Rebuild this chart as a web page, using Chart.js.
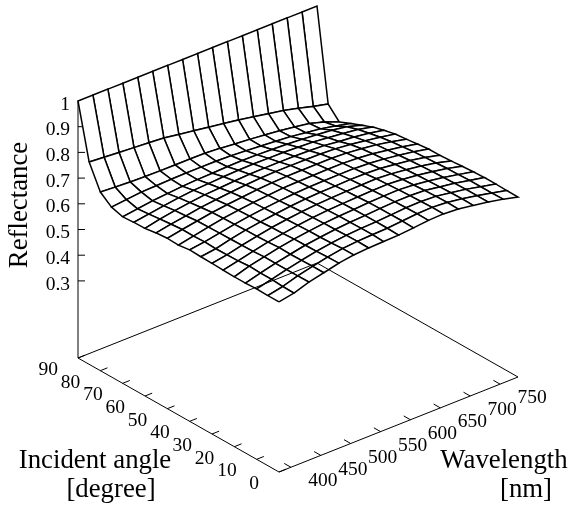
<!DOCTYPE html>
<html>
<head>
<meta charset="utf-8">
<title>Reflectance</title>
<script src="https://cdn.jsdelivr.net/npm/chart.js@4/dist/chart.umd.js"></script>
<style>
  html, body { margin: 0; padding: 0; background: #fff; }
  canvas { display: block; }
</style>
</head>
<body>
<canvas id="surfaceChart" width="574" height="510"></canvas>
<script>
// grid of the surface
const angles = [0, 5, 10, 15, 20, 25, 30, 35, 40, 45, 50, 55, 60, 65, 70, 75, 80, 85, 90];
const wavelengths = [380, 405, 430, 455, 480, 505, 530, 555, 580, 605, 630, 655, 680, 705, 730, 755, 780];

// reflectance per incident angle, one value per wavelength
const r0 = [0.662, 0.673, 0.693, 0.706, 0.72, 0.729, 0.733, 0.735, 0.737, 0.742, 0.748, 0.75, 0.746, 0.737, 0.727, 0.715, 0.7];
const r5 = [0.662, 0.674, 0.692, 0.706, 0.719, 0.729, 0.734, 0.737, 0.739, 0.744, 0.749, 0.751, 0.747, 0.738, 0.727, 0.714, 0.701];
const r10 = [0.663, 0.677, 0.692, 0.705, 0.717, 0.726, 0.733, 0.737, 0.739, 0.743, 0.748, 0.749, 0.746, 0.737, 0.727, 0.714, 0.702];
const r15 = [0.661, 0.677, 0.692, 0.704, 0.716, 0.724, 0.731, 0.736, 0.739, 0.743, 0.746, 0.747, 0.744, 0.735, 0.726, 0.714, 0.702];
const r20 = [0.661, 0.679, 0.692, 0.705, 0.715, 0.723, 0.73, 0.735, 0.738, 0.742, 0.744, 0.745, 0.741, 0.733, 0.724, 0.712, 0.7];
const r25 = [0.662, 0.675, 0.689, 0.702, 0.712, 0.721, 0.728, 0.733, 0.736, 0.739, 0.741, 0.742, 0.738, 0.731, 0.722, 0.711, 0.697];
const r30 = [0.664, 0.674, 0.688, 0.7, 0.711, 0.719, 0.726, 0.731, 0.734, 0.736, 0.738, 0.739, 0.735, 0.728, 0.719, 0.708, 0.693];
const r35 = [0.665, 0.673, 0.687, 0.699, 0.708, 0.716, 0.723, 0.728, 0.731, 0.732, 0.734, 0.734, 0.731, 0.724, 0.716, 0.705, 0.69];
const r40 = [0.667, 0.675, 0.686, 0.697, 0.706, 0.713, 0.719, 0.724, 0.727, 0.728, 0.729, 0.729, 0.726, 0.72, 0.712, 0.702, 0.69];
const r45 = [0.661, 0.673, 0.685, 0.696, 0.704, 0.711, 0.716, 0.721, 0.723, 0.724, 0.725, 0.725, 0.722, 0.716, 0.707, 0.697, 0.685];
const r50 = [0.663, 0.674, 0.684, 0.694, 0.701, 0.707, 0.713, 0.717, 0.719, 0.72, 0.72, 0.72, 0.717, 0.711, 0.703, 0.692, 0.679];
const r55 = [0.659, 0.67, 0.679, 0.689, 0.696, 0.702, 0.707, 0.711, 0.713, 0.713, 0.713, 0.712, 0.709, 0.703, 0.694, 0.685, 0.674];
const r60 = [0.652, 0.665, 0.675, 0.683, 0.69, 0.694, 0.698, 0.701, 0.702, 0.702, 0.702, 0.7, 0.697, 0.69, 0.684, 0.676, 0.664];
const r65 = [0.651, 0.66, 0.669, 0.677, 0.683, 0.686, 0.69, 0.692, 0.693, 0.692, 0.692, 0.689, 0.686, 0.68, 0.673, 0.666, 0.652];
const r70 = [0.648, 0.656, 0.664, 0.669, 0.674, 0.677, 0.679, 0.681, 0.682, 0.681, 0.679, 0.676, 0.672, 0.667, 0.661, 0.652, 0.635];
const r75 = [0.661, 0.667, 0.673, 0.675, 0.677, 0.678, 0.678, 0.678, 0.676, 0.672, 0.668, 0.663, 0.658, 0.65, 0.642, 0.63, 0.617];
const r80 = [0.695, 0.691, 0.688, 0.686, 0.685, 0.685, 0.685, 0.684, 0.68, 0.674, 0.669, 0.663, 0.656, 0.648, 0.638, 0.621, 0.598];
const r85 = [0.787, 0.783, 0.778, 0.774, 0.77, 0.765, 0.756, 0.747, 0.738, 0.729, 0.72, 0.709, 0.698, 0.687, 0.673, 0.657, 0.643];
const r90 = [1, 1, 1, 1, 1, 1, 1, 1, 1, 1, 1, 1, 1, 1, 1, 1, 1];
const reflectance = [r0, r5, r10, r15, r20, r25, r30, r35, r40, r45, r50, r55, r60, r65, r70, r75, r80, r85, r90];

// tick labels
const angleTicks = [90, 80, 70, 60, 50, 40, 30, 20, 10, 0];
const wavelengthTicks = [400, 450, 500, 550, 600, 650, 700, 750];
const reflectanceTicks = [1, 0.9, 0.8, 0.7, 0.6, 0.5, 0.4, 0.3];

// axis ranges
const angleMax = 90;
const wlMin = 380;
const wlMax = 780;

// oblique projection of the 3d box onto the page
function project(angle, wl, r) {
  const a = angle / angleMax;
  const w = (wl - wlMin) / (wlMax - wlMin);
  return {
    x: 279 - 201 * a + 239 * w,
    y: 472 - 114 * a - 95 * w - 257 * r,
  };
}

const BLACK = "#000";
const datasets = [];

function addLine(points, width) {
  datasets.push({
    data: points,
    showLine: true,
    fill: false,
    borderColor: BLACK,
    borderWidth: width,
    pointRadius: 0,
    tension: 0,
  });
}

// box and ticks go on top of the surface
addLine([project(90, wlMin, 0), project(0, wlMin, 0), project(0, wlMax, 0), project(90, wlMax, 0), project(90, wlMin, 0)], 1);
addLine([project(90, wlMin, 0), project(90, wlMin, 1)], 1);
angleTicks.forEach((a) => {
  addLine([project(a, wlMin, 0), project(a, wlMin + 12, 0)], 1);
});
wavelengthTicks.forEach((w) => {
  addLine([project(0, w, 0), project(3, w, 0)], 1);
});

// surface cells, nearest first because chart.js paints the first dataset last
for (let i = 0; i < angles.length - 1; i++) {
  for (let j = 0; j < wavelengths.length - 1; j++) {
    datasets.push({
      data: [
        project(angles[i], wavelengths[j], reflectance[i][j]),
        project(angles[i], wavelengths[j + 1], reflectance[i][j + 1]),
        project(angles[i + 1], wavelengths[j + 1], reflectance[i + 1][j + 1]),
        project(angles[i + 1], wavelengths[j], reflectance[i + 1][j]),
        project(angles[i], wavelengths[j], reflectance[i][j]),
      ],
      showLine: true,
      fill: "shape",
      backgroundColor: "#fff",
      borderColor: BLACK,
      borderWidth: 1.5,
      pointRadius: 0,
      tension: 0,
    });
  }
}

// z ticks sit against the back wall, behind the surface
reflectanceTicks.forEach((r) => {
  const p = project(90, wlMin, r);
  addLine([p, { x: p.x + 7, y: p.y }], 1);
});

const textPlugin = {
  id: "axisText",
  afterDraw(chart) {
    const { ctx, scales } = chart;
    const px = (x) => scales.x.getPixelForValue(x);
    const py = (y) => scales.y.getPixelForValue(y);
    ctx.save();
    ctx.fillStyle = "#000";
    ctx.textBaseline = "middle";

    ctx.font = "19.5px 'Liberation Serif'";
    ctx.textAlign = "right";
    reflectanceTicks.forEach((r) => {
      const p = project(90, wlMin, r);
      ctx.fillText(String(r), px(p.x - 8), py(p.y + 3.5));
    });
    angleTicks.forEach((a) => {
      const p = project(a, wlMin, 0);
      ctx.fillText(String(a), px(p.x - 20), py(p.y + 12));
    });
    ctx.textAlign = "center";
    wavelengthTicks.forEach((w) => {
      const p = project(0, w, 0);
      ctx.fillText(String(w), px(p.x + 32), py(p.y + 14));
    });

    ctx.font = "26.8px 'Liberation Serif'";
    ctx.textBaseline = "alphabetic";
    ctx.fillText("Incident angle", px(95), py(468));
    ctx.fillText("[degree]", px(111), py(497));
    ctx.fillText("Wavelength", px(504), py(468));
    ctx.fillText("[nm]", px(526), py(497));

    ctx.translate(px(28), py(205));
    ctx.rotate(-Math.PI / 2);
    ctx.fillText("Reflectance", 0, -1);
    ctx.restore();
  },
};

new Chart(document.getElementById("surfaceChart").getContext("2d"), {
  type: "scatter",
  data: { datasets },
  options: {
    responsive: false,
    animation: false,
    layout: { padding: 0 },
    scales: {
      x: { type: "linear", min: 0, max: 574, display: false },
      y: { type: "linear", min: 0, max: 510, reverse: true, display: false },
    },
    plugins: {
      legend: { display: false },
      tooltip: { enabled: false },
    },
  },
  plugins: [textPlugin],
});
</script>
</body>
</html>
